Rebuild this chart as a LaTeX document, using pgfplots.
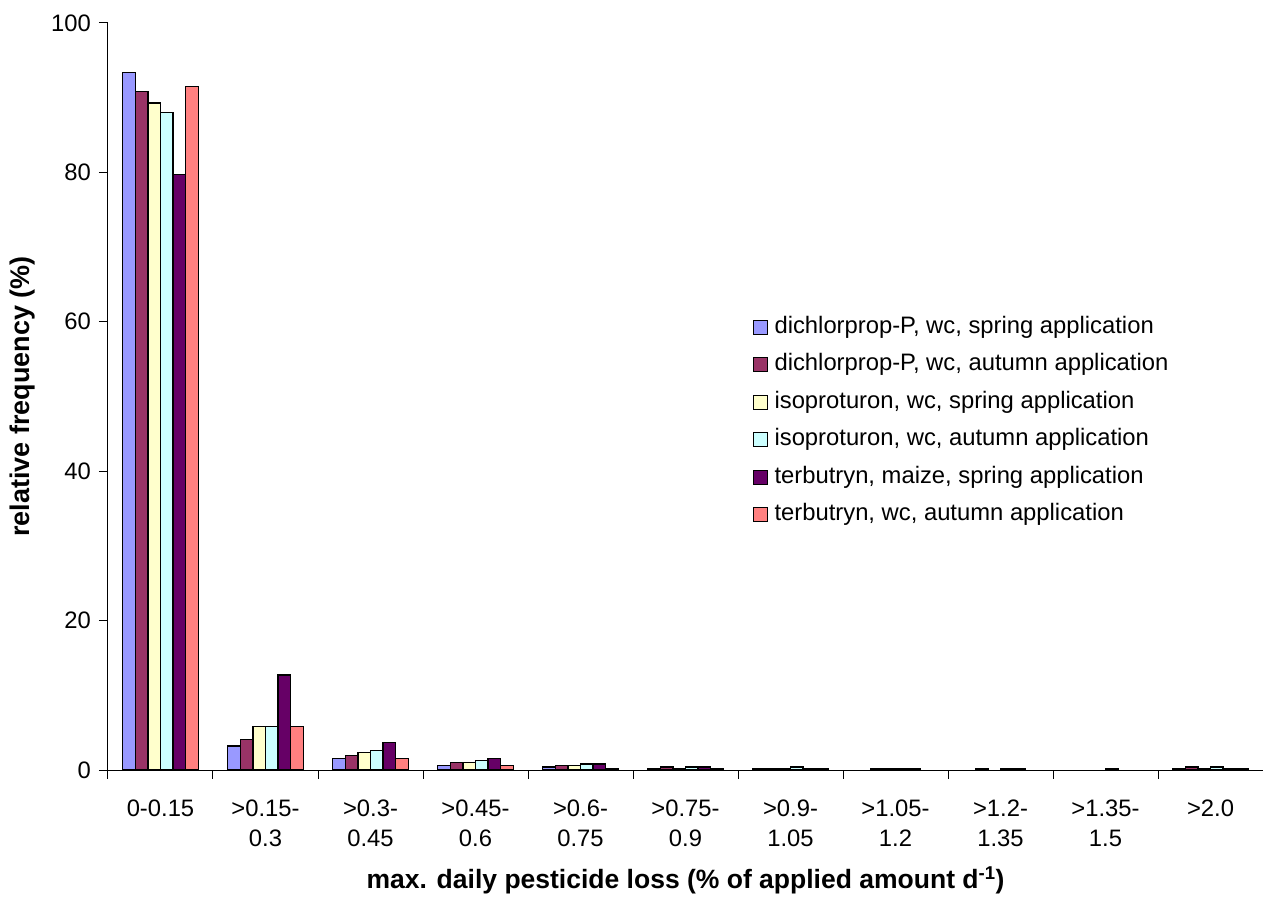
\documentclass[border=0pt]{standalone}
\usepackage{fontspec}
\setmainfont{Liberation Sans}
\usepackage{pgfplots}
\pgfplotsset{compat=1.18}
\definecolor{c1}{HTML}{9999FF}
\definecolor{c2}{HTML}{993366}
\definecolor{c3}{HTML}{FFFFCC}
\definecolor{c4}{HTML}{CCFFFF}
\definecolor{c5}{HTML}{660066}
\definecolor{c6}{HTML}{FF8080}
\pgfplotsset{
  mybar/.style={fill=#1, draw=black, line width=1.3pt,
    legend image code/.code={\draw[##1, line width=1.1pt] (0pt,-7pt) rectangle (14pt,7pt); \path[draw=none, fill=none] (14pt,0pt) -- (21pt,0pt);}},
}
\begin{document}
\fontsize{23.8pt}{30pt}\selectfont
\begin{tikzpicture}
\useasboundingbox (-108pt,-132pt) rectangle (1155pt,770pt);
\begin{axis}[
  at={(0pt,0pt)}, anchor=south west,
  scale only axis, width=1155pt, height=747pt,
  xmin=-0.5, xmax=10.5, ymin=0, ymax=100,
  axis x line*=bottom, axis y line*=left,
  axis line style={line width=1pt},
  tick align=outside,
  major tick length=9pt,
  tick style={line width=1pt, black},
  /pgf/number format/assume math mode=true,
  ytick={0,20,40,60,80,100},
  yticklabel style={font=\fontsize{23.8pt}{30pt}\selectfont},
  xtick={-0.5,0.5,...,10.5},
  xticklabels={},
  extra x ticks={0,1,2,3,4,5,6,7,8,9,10},
  extra x tick labels={0-0.15, {>0.15-\\0.3}, {>0.3-\\0.45}, {>0.45-\\0.6}, {>0.6-\\0.75}, {>0.75-\\0.9}, {>0.9-\\1.05}, {>1.05-\\1.2}, {>1.2-\\1.35}, {>1.35-\\1.5}, >2.0},
  extra x tick style={major tick length=0pt, xticklabel style={align=center, font=\fontsize{23.8pt}{30pt}\selectfont, yshift=-22pt}},
  ybar=0pt, bar width=0.12,
  xlabel={\bfseries max. daily pesticide loss (\% of applied amount d\textsuperscript{-1})},
  ylabel={\bfseries relative frequency (\%)},
  every axis x label/.style={at={(axis description cs:0.5,0)}, yshift=-110pt, anchor=center, font=\fontsize{26.5pt}{32pt}\selectfont},
  every axis y label/.style={at={(axis description cs:0,0.5)}, xshift=-85pt, rotate=90, anchor=center, font=\fontsize{27pt}{32pt}\selectfont},
  legend style={at={(rel axis cs:0.5557,0.6104)}, anchor=north west, draw=none, fill=none,
    font=\fontsize{23.8pt}{28pt}\selectfont, row sep=15.5pt,
    nodes={text height=17pt, text depth=5pt, inner sep=0pt}},
  legend cell align=left,
]
\addplot[mybar=c1] coordinates {(0,93.4)(1,3.2)(2,1.5)(3,0.6)(4,0.4)(5,0.2)(6,0.2)(10,0.2)};
\addplot[mybar=c2] coordinates {(0,90.8)(1,4.1)(2,1.9)(3,1.0)(4,0.6)(5,0.4)(6,0.2)(7,0.2)(8,0.2)(10,0.4)};
\addplot[mybar=c3] coordinates {(0,89.3)(1,5.8)(2,2.3)(3,1.0)(4,0.6)(5,0.2)(6,0.2)(7,0.2)(10,0.2)};
\addplot[mybar=c4] coordinates {(0,88.0)(1,5.8)(2,2.6)(3,1.3)(4,0.8)(5,0.4)(6,0.4)(7,0.2)(8,0.2)(9,0.2)(10,0.4)};
\addplot[mybar=c5] coordinates {(0,79.7)(1,12.7)(2,3.7)(3,1.5)(4,0.8)(5,0.4)(6,0.2)(7,0.2)(8,0.2)(10,0.2)};
\addplot[mybar=c6] coordinates {(0,91.5)(1,5.8)(2,1.5)(3,0.6)(4,0.2)(5,0.2)(6,0.2)(10,0.2)};
\legend{dichlorprop-P{,} wc{,} spring application,
        dichlorprop-P{,} wc{,} autumn application,
        isoproturon{,} wc{,} spring application,
        isoproturon{,} wc{,} autumn application,
        terbutryn{,} maize{,} spring application,
        terbutryn{,} wc{,} autumn application}
\end{axis}
\end{tikzpicture}
\end{document}
